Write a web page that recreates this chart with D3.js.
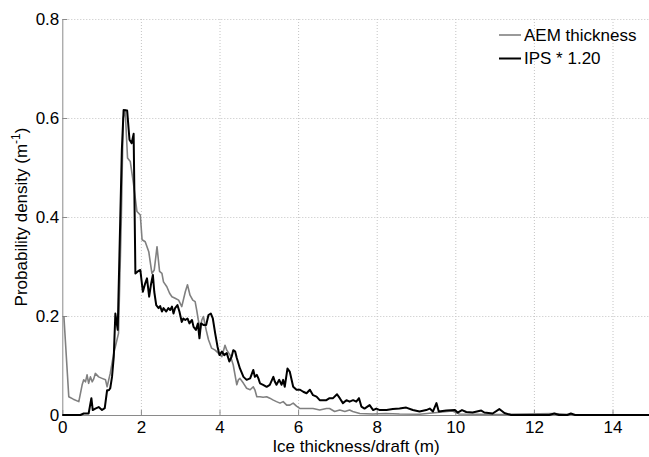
<!DOCTYPE html>
<html lang="en">
<head>
<meta charset="utf-8">
<title>Ice thickness distribution</title>
<script src="https://d3js.org/d3.v7.min.js"></script>
<style>
  body { margin: 0; background: #fff; }
  svg { display: block; font-family: "Liberation Sans", Arial, Helvetica, sans-serif; }
  .grid line { stroke: #c4c4c4; stroke-dasharray: 1,2; }
  .axis path, .axis line { stroke: #8a8a8a; }
  .axis text { font-size: 17px; fill: #000; font-family: "Liberation Sans", Arial, sans-serif; }
</style>
</head>
<body>
<script>
// AEM thickness pdf
var aemThickness = [0.04,0.165,0.28,0.42,0.505,0.545,0.59,0.63,0.67,0.715,
  0.76,0.80,0.84,0.925,1.01,1.10,1.14,1.22,1.31,1.35,
  1.43,1.50,1.55,1.60,1.66,1.73,1.81,1.90,1.985,2.03,
  2.11,2.20,2.28,2.34,2.41,2.475,2.535,2.575,2.66,2.73,
  2.79,2.87,2.96,3.04,3.13,3.185,3.25,3.32,3.38,3.42,
  3.46,3.51,3.55,3.59,3.66,3.72,3.80,3.89,3.97,4.06,
  4.14,4.185,4.27,4.35,4.44,4.48,4.52,4.61,4.69,4.78,
  4.86,4.90,4.95,5.03,5.11,5.20,5.28,5.37,5.45,5.54,
  5.62,5.71,5.79,5.875,5.96,6.05,6.215,6.38,6.55,6.72,
  6.80,6.93,7.06,7.19,7.31,7.39,7.57,7.90,8.23,8.58,
  9.09,9.93,10.1,11.12,12.52,12.9,13.66,15];
var aemDensity = [0.200,0.037,0.032,0.027,0.061,0.071,0.067,0.081,0.064,0.077,
  0.067,0.073,0.084,0.077,0.074,0.071,0.057,0.084,0.125,0.138,
  0.165,0.39,0.60,0.616,0.519,0.512,0.468,0.411,0.404,0.354,
  0.350,0.330,0.286,0.293,0.340,0.290,0.286,0.269,0.259,0.246,
  0.239,0.236,0.232,0.219,0.249,0.263,0.242,0.232,0.229,0.212,
  0.192,0.172,0.192,0.199,0.172,0.152,0.135,0.131,0.125,0.118,
  0.141,0.131,0.121,0.101,0.061,0.071,0.074,0.064,0.054,0.051,
  0.057,0.051,0.037,0.037,0.036,0.037,0.034,0.030,0.027,0.024,
  0.027,0.020,0.020,0.024,0.018,0.013,0.013,0.013,0.010,0.013,
  0.013,0.007,0.010,0.007,0.010,0.007,0.003,0.002,0.003,0.002,
  0.0015,0.008,0.002,0.001,0.003,0.001,0,0];

// IPS draft * 1.20
var ipsThickness = [0,0.46,0.545,0.67,0.74,0.775,0.84,0.925,1.01,1.08,
  1.14,1.185,1.22,1.265,1.31,1.35,1.41,1.48,1.515,1.56,
  1.65,1.71,1.765,1.815,1.86,1.92,1.985,2.05,2.11,2.155,
  2.21,2.255,2.305,2.34,2.39,2.45,2.49,2.535,2.575,2.645,
  2.70,2.745,2.79,2.83,2.87,2.93,2.98,3.04,3.08,3.13,
  3.185,3.235,3.30,3.34,3.40,3.45,3.49,3.53,3.59,3.66,
  3.72,3.78,3.83,3.89,3.95,4.00,4.06,4.12,4.185,4.25,
  4.31,4.35,4.40,4.44,4.52,4.61,4.69,4.78,4.86,4.90,
  4.95,4.99,5.03,5.11,5.20,5.28,5.37,5.41,5.45,5.52,
  5.58,5.62,5.66,5.73,5.79,5.875,5.96,6.05,6.13,6.215,
  6.30,6.38,6.47,6.55,6.64,6.72,6.80,6.89,6.99,7.06,
  7.14,7.23,7.31,7.40,7.48,7.55,7.61,7.69,7.82,7.91,
  7.99,8.08,8.25,8.41,8.58,8.75,8.92,9.09,9.26,9.35,
  9.43,9.52,9.58,9.77,9.99,10.06,10.17,10.28,10.44,10.66,
  10.74,10.95,11.12,11.25,11.42,12.39,12.52,12.64,12.85,12.94,
  13.05,15];
var ipsDensity = [0,0,0.003,0.003,0.034,0.010,0.013,0.016,0.010,0.014,
  0.050,0.050,0.054,0.077,0.118,0.205,0.172,0.414,0.535,0.616,
  0.615,0.556,0.549,0.568,0.286,0.290,0.293,0.249,0.266,0.276,
  0.239,0.263,0.283,0.249,0.222,0.216,0.220,0.209,0.216,0.209,
  0.216,0.212,0.219,0.205,0.216,0.222,0.209,0.188,0.195,0.192,
  0.195,0.185,0.192,0.178,0.172,0.185,0.155,0.185,0.182,0.182,
  0.202,0.205,0.195,0.165,0.138,0.121,0.128,0.121,0.125,0.108,
  0.118,0.131,0.128,0.115,0.094,0.077,0.071,0.074,0.091,0.077,
  0.081,0.074,0.064,0.061,0.057,0.061,0.077,0.067,0.061,0.071,
  0.061,0.071,0.057,0.094,0.087,0.057,0.051,0.051,0.047,0.044,
  0.051,0.040,0.037,0.030,0.030,0.030,0.034,0.034,0.042,0.034,
  0.024,0.030,0.027,0.030,0.027,0.034,0.017,0.013,0.020,0.010,
  0.013,0.010,0.010,0.012,0.013,0.015,0.010,0.007,0.010,0.013,
  0.007,0.024,0.007,0.009,0.010,0.005,0.010,0.006,0.005,0.009,
  0.005,0.003,0.012,0.004,0,0,0.003,0,0,0.003,
  0,0];

var xTicks = [0, 2, 4, 6, 8, 10, 12, 14];
var yTicks = [0, 0.2, 0.4, 0.6, 0.8];
var legendLabels = ["AEM thickness", "IPS * 1.20"];

var w = 649, h = 457;

var x = d3.scaleLinear().domain([0, 15]).range([62.3, 651.8]);
var y = d3.scaleLinear().domain([0, 0.8]).range([415, 19]);

var svg = d3.select("body").append("svg")
  .attr("width", w)
  .attr("height", h);

// dotted grid
svg.append("g").attr("class", "grid")
  .selectAll("line").data(xTicks.slice(1)).enter().append("line")
  .attr("x1", function(d) { return x(d) + 0.5; })
  .attr("x2", function(d) { return x(d) + 0.5; })
  .attr("y1", y(0.8)).attr("y2", y(0));
svg.append("g").attr("class", "grid")
  .selectAll("line").data(yTicks.slice(1)).enter().append("line")
  .attr("x1", x(0)).attr("x2", x(15))
  .attr("y1", function(d) { return Math.round(y(d)) + 0.5; })
  .attr("y2", function(d) { return Math.round(y(d)) + 0.5; });

// axes, ticks pointing in
svg.append("g").attr("class", "axis")
  .attr("transform", "translate(0," + y(0) + ")")
  .call(d3.axisBottom(x).tickValues(xTicks).tickSize(-5).tickSizeOuter(0).tickPadding(6)
    .tickFormat(d3.format("d")));

svg.append("g").attr("class", "axis")
  .attr("transform", "translate(" + x(0) + ",0)")
  .call(d3.axisLeft(y).tickValues(yTicks).tickSize(-5).tickSizeOuter(0).tickPadding(3)
    .tickFormat(function(d) { return d === 0 ? "0" : d.toFixed(1); }));

var line = d3.line()
  .x(function(d) { return x(d[0]); })
  .y(function(d) { return y(d[1]); });

svg.append("path")
  .datum(d3.zip(aemThickness, aemDensity))
  .attr("d", line)
  .style("fill", "none")
  .style("stroke", "#808080")
  .style("stroke-width", 1.6)
  .style("stroke-linejoin", "round");

svg.append("path")
  .datum(d3.zip(ipsThickness, ipsDensity))
  .attr("d", line)
  .style("fill", "none")
  .style("stroke", "#000")
  .style("stroke-width", 2)
  .style("stroke-linejoin", "round");

// axis labels
svg.append("text")
  .attr("x", 356).attr("y", 452)
  .attr("text-anchor", "middle")
  .style("font-size", "17px")
  .text("Ice thickness/draft (m)");

var yl = svg.append("text")
  .attr("transform", "translate(27," + 217 + ") rotate(-90)")
  .attr("text-anchor", "middle")
  .style("font-size", "17px");
yl.append("tspan").text("Probability density  (m");
yl.append("tspan").attr("dy", -7).style("font-size", "12px").text("-1");
yl.append("tspan").attr("dy", 7).text(")");

// legend
var legendColours = ["#808080", "#000"];
var legendWidths = [1.6, 2];
var lg = svg.append("g").selectAll("g").data(legendLabels).enter().append("g")
  .attr("transform", function(d, i) { return "translate(499," + (35 + i * 23.5) + ")"; });
lg.append("line")
  .attr("x1", 0).attr("x2", 22)
  .style("stroke", function(d, i) { return legendColours[i]; })
  .style("stroke-width", function(d, i) { return legendWidths[i]; });
lg.append("text")
  .attr("x", 25).attr("dy", "0.35em")
  .style("font-size", "17px")
  .text(function(d) { return d; });
</script>
</body>
</html>
